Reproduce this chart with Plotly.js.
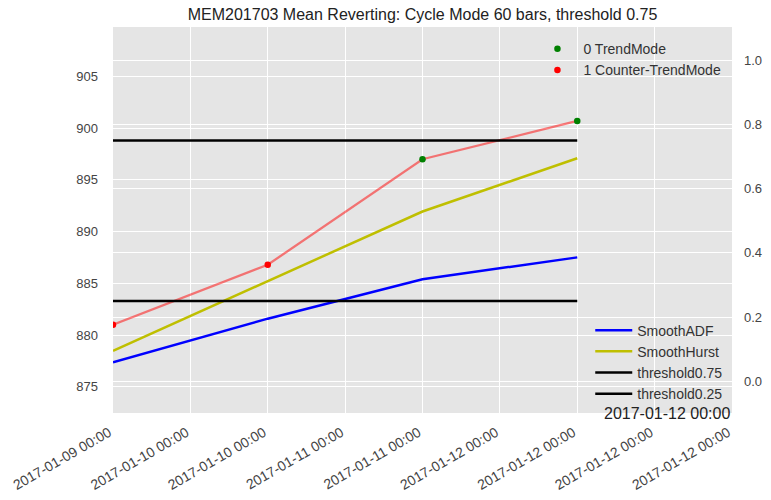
<!DOCTYPE html>
<html>
<head>
<meta charset="utf-8">
<script src="https://cdn.plot.ly/plotly-3.0.1.min.js"></script>
<style>
  body { margin: 0; background: #fff; }
  #chart { width: 771px; height: 500px; }
</style>
</head>
<body>
<div id="chart"></div>
<script>
// bar index, one per day
var idx = [0, 1, 2, 3];
var price = [881.0, 886.8, 897.0, 900.7];
// 0 = trend mode, 1 = counter-trend mode
var mode = [1, 1, 0, 0];
var smoothADF = [0.059, 0.195, 0.318, 0.386];
var smoothHurst = [0.095, 0.312, 0.529, 0.695];
var thrHigh = [0.75, 0.75, 0.75, 0.75];
var thrLow = [0.25, 0.25, 0.25, 0.25];

var tickVals = [0, 0.5, 1, 1.5, 2, 2.5, 3, 3.5, 4];
var tickText = ['2017-01-09 00:00', '2017-01-10 00:00', '2017-01-10 00:00',
  '2017-01-11 00:00', '2017-01-11 00:00', '2017-01-12 00:00',
  '2017-01-12 00:00', '2017-01-12 00:00', '2017-01-12 00:00'];
var offsetLabel = '2017-01-12 00:00';

var trendX = [], trendY = [], counterX = [], counterY = [];
for (var i = 0; i < idx.length; i++) {
  if (mode[i] == 0) { trendX.push(idx[i]); trendY.push(price[i]); }
  else { counterX.push(idx[i]); counterY.push(price[i]); }
}

var font = 'Liberation Sans, Arial, sans-serif';

var data = [
  { x: idx, y: price, mode: 'lines', showlegend: false,
    line: { color: 'rgba(255,0,0,0.5)', width: 2.3 }, yaxis: 'y' },
  { x: trendX, y: trendY, mode: 'markers', name: '0 TrendMode',
    marker: { color: '#008000', size: 6.5 }, yaxis: 'y' },
  { x: counterX, y: counterY, mode: 'markers', name: '1 Counter-TrendMode',
    marker: { color: '#ff0000', size: 6.5 }, yaxis: 'y' },
  { x: idx, y: smoothADF, mode: 'lines', name: 'SmoothADF', legend: 'legend2',
    line: { color: '#0000ff', width: 2.5 }, yaxis: 'y2' },
  { x: idx, y: smoothHurst, mode: 'lines', name: 'SmoothHurst', legend: 'legend2',
    line: { color: '#bfbf00', width: 2.5 }, yaxis: 'y2' },
  { x: idx, y: thrHigh, mode: 'lines', name: 'threshold0.75', legend: 'legend2',
    line: { color: '#000000', width: 2.5 }, yaxis: 'y2' },
  { x: idx, y: thrLow, mode: 'lines', name: 'threshold0.25', legend: 'legend2',
    line: { color: '#000000', width: 2.5 }, yaxis: 'y2' }
];

var layout = {
  width: 771, height: 500,
  margin: { l: 113, r: 39, t: 27, b: 87 },
  paper_bgcolor: '#ffffff',
  plot_bgcolor: '#e5e5e5',
  font: { family: font, size: 13, color: '#333333' },
  title: { text: 'MEM201703 Mean Reverting: Cycle Mode 60 bars, threshold 0.75',
    font: { family: font, size: 16, color: '#222222' },
    x: 0.5, xref: 'paper', y: 0.971, yref: 'container', yanchor: 'middle' },
  xaxis: {
    range: [0, 4], tickmode: 'array', tickvals: tickVals, ticktext: tickText,
    tickangle: -30, showgrid: true, gridcolor: '#ffffff', gridwidth: 1.2,
    zeroline: false, showline: false, ticks: '',
    ticklabelstandoff: 8, ticklabelshift: -4,
    tickfont: { family: font, size: 14, color: '#444444' }
  },
  yaxis: {
    range: [872.47, 909.78], tickmode: 'linear', tick0: 875, dtick: 5,
    showgrid: true, gridcolor: '#ffffff', gridwidth: 1.2,
    zeroline: false, showline: false, ticks: '', ticklabelstandoff: 14,
    tickfont: { family: font, size: 13, color: '#444444' }
  },
  yaxis2: {
    range: [-0.099, 1.104], overlaying: 'y', side: 'right',
    tickmode: 'linear', tick0: 0, dtick: 0.2, tickformat: '.1f',
    showgrid: true, gridcolor: '#ffffff', gridwidth: 1.2,
    zeroline: false, showline: false, ticks: '', ticklabelstandoff: 11,
    tickfont: { family: font, size: 13, color: '#444444' }
  },
  legend: {
    x: 0.676, xanchor: 'left', y: 0.984, yanchor: 'top',
    bgcolor: 'rgba(0,0,0,0)', borderwidth: 0, itemwidth: 42,
    font: { family: font, size: 14, color: '#333333' }
  },
  legend2: {
    x: 0.771, xanchor: 'left', y: 0.009, yanchor: 'bottom',
    bgcolor: 'rgba(0,0,0,0)', borderwidth: 0, itemwidth: 37,
    font: { family: font, size: 14, color: '#333333' }
  },
  annotations: [{
    text: offsetLabel, xref: 'paper', yref: 'paper', x: 1, y: 0,
    xanchor: 'right', yanchor: 'middle', showarrow: false,
    font: { family: font, size: 16, color: '#222222' }
  }]
};

Plotly.newPlot('chart', data, layout, { displayModeBar: false });
</script>
</body>
</html>
